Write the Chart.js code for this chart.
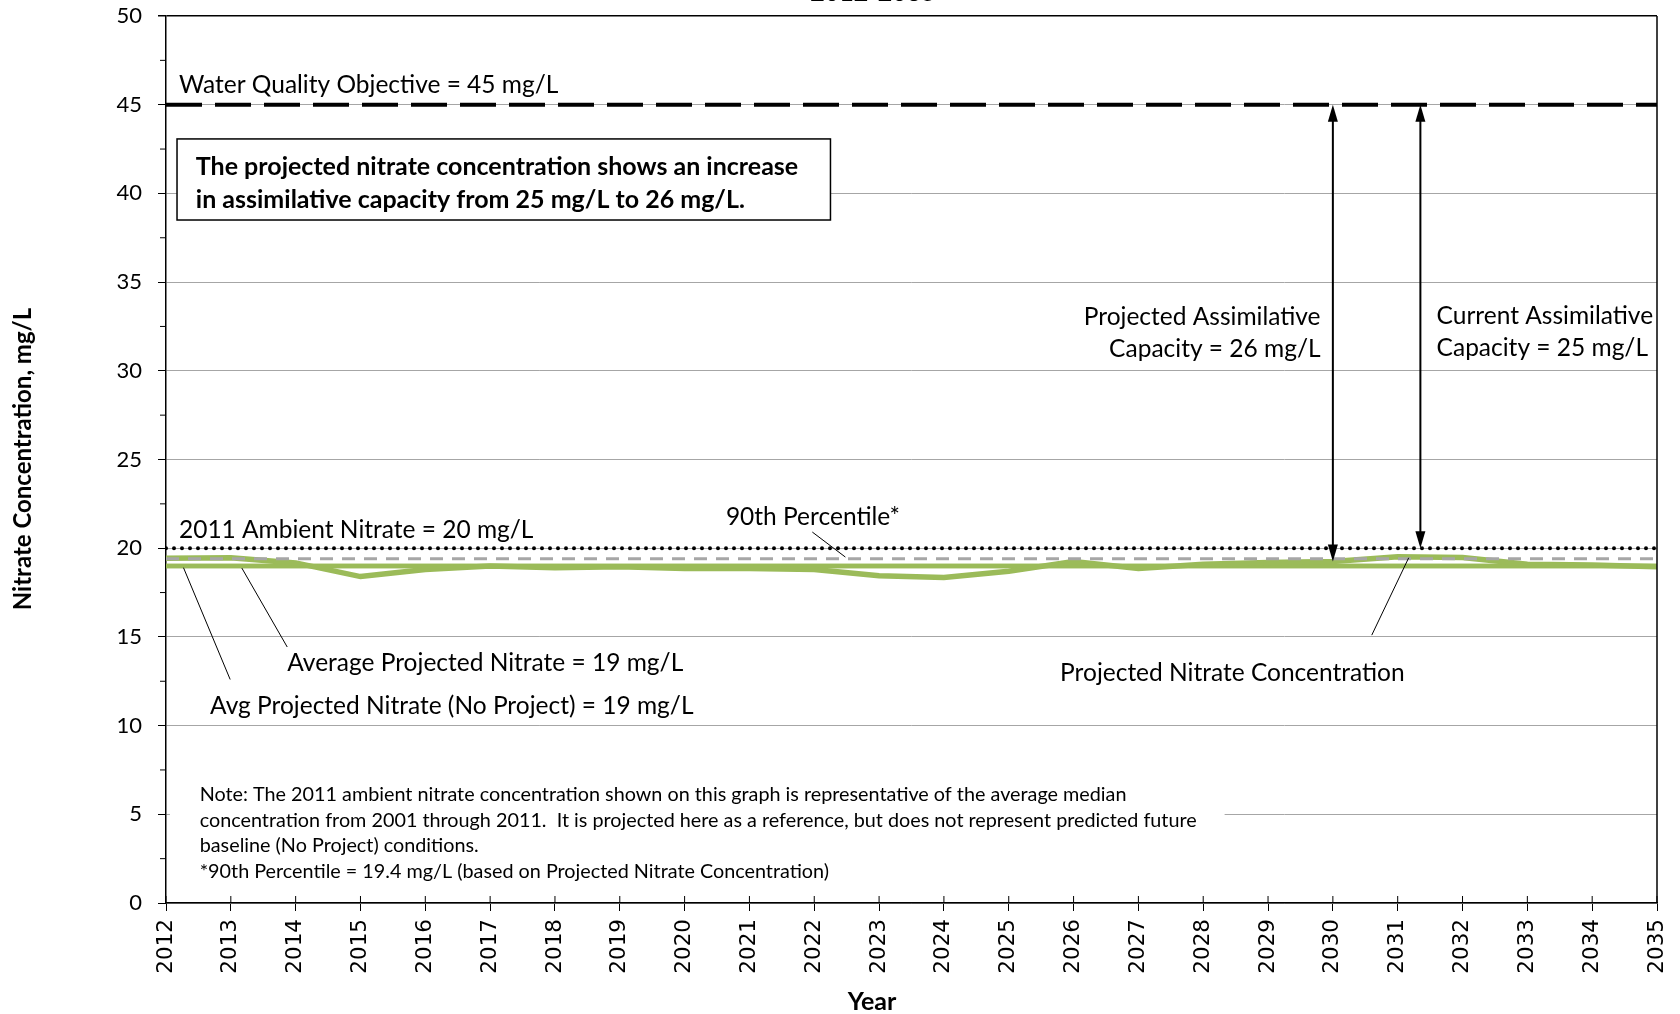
<!DOCTYPE html>
<html>
<head>
<meta charset="utf-8">
<script src="https://cdn.jsdelivr.net/npm/chart.js@4.4.1/dist/chart.umd.min.js"></script>
<style>
html, body { margin: 0; padding: 0; background: #fff; }
#wrap { width: 1680px; height: 1014px; }
</style>
</head>
<body>
<div id="wrap"><canvas id="plots"></canvas></div>
<script>
// Years on the X-axis
var years = [2012, 2013, 2014, 2015, 2016, 2017, 2018, 2019, 2020, 2021, 2022, 2023,
             2024, 2025, 2026, 2027, 2028, 2029, 2030, 2031, 2032, 2033, 2034, 2035];
// Projected nitrate concentration, mg/L
var projected = [19.43, 19.46, 19.17, 18.4, 18.8, 19.0, 18.9, 18.95, 18.85, 18.85, 18.8, 18.45,
                 18.35, 18.7, 19.25, 18.85, 19.1, 19.2, 19.25, 19.52, 19.47, 19.1, 19.05, 18.96];
// Reference levels, mg/L
var avgProjected = 19.0;
var avgNoProject = 19.0;
var percentile90 = 19.4;
var ambient2011 = 20;
var waterQualityObjective = 45;
var yTicks = [0, 5, 10, 15, 20, 25, 30, 35, 40, 45, 50];

var labelFont = "Lato";
var green = "#9BBB59";

function flat(v) {
    return [{ x: years[0], y: v }, { x: years[years.length - 1], y: v }];
}

// annotations, arrows, leader lines, text boxes
var notes = {
    id: "notes",
    afterDatasetsDraw: function (chart) {
        var c = chart.ctx, xs = chart.scales.x, ys = chart.scales.y, a = chart.chartArea;
        var px = function (v) { return xs.getPixelForValue(v); };
        var py = function (v) { return ys.getPixelForValue(v); };
        c.save();

        // right border
        c.strokeStyle = "#000"; c.lineWidth = 1.5;
        c.beginPath(); c.moveTo(a.right, a.top); c.lineTo(a.right, a.bottom); c.stroke();

        // x ticks inside, y minor ticks
        c.lineWidth = 1;
        years.forEach(function (yr) {
            c.beginPath(); c.moveTo(px(yr), a.bottom); c.lineTo(px(yr), a.bottom - 7); c.stroke();
        });
        for (var i = 0; i < yTicks.length - 1; i++) {
            var m = (yTicks[i] + yTicks[i + 1]) / 2;
            c.beginPath(); c.moveTo(a.left - 6, py(m)); c.lineTo(a.left, py(m)); c.stroke();
        }

        // text helper
        function txt(s, x, y, align, font) {
            c.font = font || ("24.5px " + labelFont);
            c.fillStyle = "#000";
            c.textAlign = align || "left";
            c.textBaseline = "middle";
            c.fillText(s, x, y);
        }
        function leader(x1, y1, x2, y2) {
            c.strokeStyle = "#000"; c.lineWidth = 1;
            c.beginPath(); c.moveTo(px(x1), py(y1)); c.lineTo(px(x2), py(y2)); c.stroke();
        }
        function arrow(x, y1, y2) {
            var X = px(x), A = py(y1), B = py(y2);
            c.strokeStyle = "#000"; c.fillStyle = "#000"; c.lineWidth = 2;
            c.beginPath(); c.moveTo(X, A + 14); c.lineTo(X, B - 14); c.stroke();
            c.beginPath(); c.moveTo(X, A); c.lineTo(X - 5, A + 17); c.lineTo(X + 5, A + 17); c.closePath(); c.fill();
            c.beginPath(); c.moveTo(X, B); c.lineTo(X - 5, B - 17); c.lineTo(X + 5, B - 17); c.closePath(); c.fill();
        }

        txt("Water Quality Objective = 45 mg/L", px(2012.2), py(46.1));
        txt("2011 Ambient Nitrate = 20 mg/L", px(2012.2), py(21.0));
        txt("90th Percentile*", px(2021.98), py(21.76), "center");
        leader(2021.97, 20.91, 2022.48, 19.5);

        txt("Average Projected Nitrate = 19 mg/L", px(2013.87), py(13.53));
        leader(2013.17, 18.88, 2013.87, 14.43);
        txt("Avg Projected Nitrate (No Project) = 19 mg/L", px(2012.68), py(11.1));
        leader(2012.27, 18.9, 2012.99, 12.6);
        txt("Projected Nitrate Concentration", px(2028.45), py(12.97), "center");
        leader(2031.17, 19.46, 2030.6, 15.1);

        // assimilative capacity arrows
        arrow(2030, waterQualityObjective, projected[years.indexOf(2030)]);
        arrow(2031.35, waterQualityObjective, ambient2011);
        txt("Projected Assimilative", px(2029.81), py(33.03), "right");
        txt("Capacity = 26 mg/L", px(2029.81), py(31.23), "right");
        txt("Current Assimilative", px(2031.6), py(33.08));
        txt("Capacity = 25 mg/L", px(2031.6), py(31.28));

        // boxed statement
        var bx1 = px(2012.17), bx2 = px(2022.25), by1 = py(43.07), by2 = py(38.5);
        c.fillStyle = "#fff"; c.fillRect(bx1, by1, bx2 - bx1, by2 - by1);
        c.strokeStyle = "#000"; c.lineWidth = 1.5; c.strokeRect(bx1, by1, bx2 - bx1, by2 - by1);
        txt("The projected nitrate concentration shows an increase", px(2012.46), py(41.49), "left", "bold 25px " + labelFont);
        txt("in assimilative capacity from 25 mg/L to 26 mg/L.", px(2012.46), py(39.63), "left", "bold 25px " + labelFont);

        // note block (white background hides the gridline)
        c.fillStyle = "#fff";
        c.fillRect(px(2012.06), py(6.93), px(2028.33) - px(2012.06), py(1.01) - py(6.93));
        var f = "19.8px " + labelFont;
        txt("Note: The 2011 ambient nitrate concentration shown on this graph is representative of the average median", px(2012.52), py(6.09), "left", f);
        txt("concentration from 2001 through 2011.  It is projected here as a reference, but does not represent predicted future", px(2012.52), py(4.62), "left", f);
        txt("baseline (No Project) conditions.", px(2012.52), py(3.21), "left", f);
        txt("*90th Percentile = 19.4 mg/L (based on Projected Nitrate Concentration)", px(2012.52), py(1.75), "left", f);

        // axis titles and cut-off title
        txt("Year", 872, 1002, "center", "bold 25px " + labelFont);
        txt("2012-2035", 873, -7, "center", "bold 25px " + labelFont);
        c.translate(23, 459); c.rotate(-Math.PI / 2);
        txt("Nitrate Concentration, mg/L", 0, 0, "center", "bold 24px " + labelFont);
        c.restore();
    }
};

new Chart(document.getElementById("plots"), {
    type: "line",
    data: {
        datasets: [
            { data: flat(ambient2011), borderColor: "#000", borderWidth: 4, borderDash: [0, 8], borderCapStyle: "round" },
            { data: flat(waterQualityObjective), borderColor: "#000", borderWidth: 4, borderDash: [36, 13] },
            { data: flat(percentile90), borderColor: "#A6A6A6", borderWidth: 3, borderDash: [13, 9] },
            { data: years.map(function (yr, i) { return { x: yr, y: projected[i] }; }), borderColor: green, borderWidth: 5.5 },
            { data: flat(avgProjected), borderColor: green, borderWidth: 4.5 },
            { data: flat(avgNoProject), borderColor: green, borderWidth: 4.5 }
        ]
    },
    options: {
        responsive: true,
        maintainAspectRatio: false,
        animation: false,
        layout: { padding: { left: 0, top: 16, right: 23, bottom: 0 } },
        elements: { point: { radius: 0 }, line: { tension: 0, fill: false } },
        plugins: { legend: { display: false }, tooltip: { enabled: false } },
        scales: {
            x: {
                type: "linear", min: 2012, max: 2035,
                afterFit: function (s) { s.height = 111; s.paddingLeft = 0; s.paddingRight = 0; },
                border: { color: "#000", width: 1.5 },
                grid: { drawOnChartArea: false, tickColor: "#000", tickLength: 8 },
                ticks: {
                    stepSize: 1, autoSkip: false, maxRotation: 90, minRotation: 90, padding: 8,
                    color: "#000", font: { family: "DejaVu Sans", size: 21.5 },
                    callback: function (v) { return String(v); }
                }
            },
            y: {
                min: 0, max: 50,
                afterFit: function (s) { s.width = 166; s.paddingTop = 0; s.paddingBottom = 0; },
                border: { color: "#000", width: 1.5 },
                grid: {
                    color: function (ctx) { return ctx.tick && ctx.tick.value === 50 ? "#000" : "#A6A6A6"; },
                    lineWidth: function (ctx) { return ctx.tick && ctx.tick.value === 50 ? 1.5 : 1; },
                    tickColor: "#000", tickLength: 8
                },
                ticks: { stepSize: 5, padding: 16, color: "#000", font: { family: labelFont, size: 22 } }
            }
        }
    },
    plugins: [notes]
});
</script>
</body>
</html>
